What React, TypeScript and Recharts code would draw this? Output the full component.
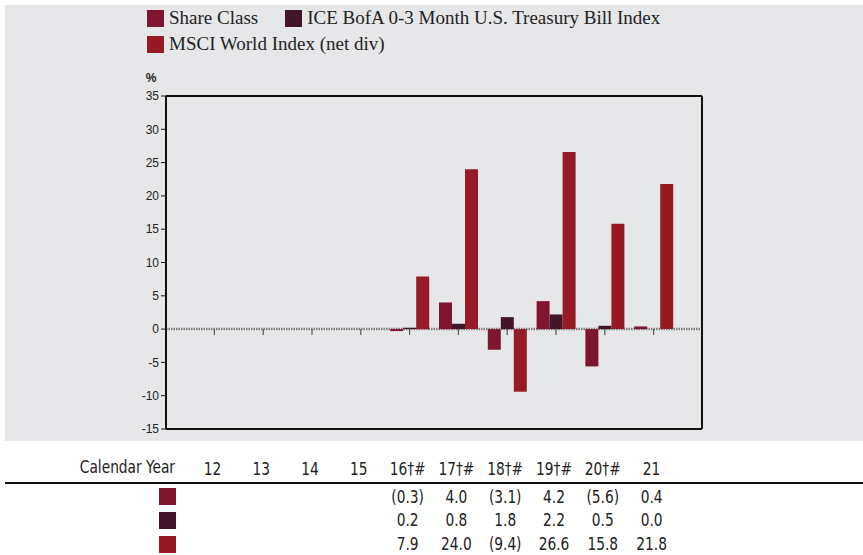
import React from 'react';
import { Bar, BarChart, CartesianGrid, ReferenceLine, XAxis, YAxis } from 'recharts';

const years = ['12', '13', '14', '15', '16', '17', '18', '19', '20', '21'];
const yearLabels = ['12', '13', '14', '15', '16†#', '17†#', '18†#', '19†#', '20†#', '21'];
const shareClass = [null, null, null, null, -0.3, 4.0, -3.1, 4.2, -5.6, 0.4];
const iceBofa = [null, null, null, null, 0.2, 0.8, 1.8, 2.2, 0.5, 0.0];
const msciWorld = [null, null, null, null, 7.9, 24.0, -9.4, 26.6, 15.8, 21.8];
const yTicks = [-15, -10, -5, 0, 5, 10, 15, 20, 25, 30, 35];

const seriesNames = ['Share Class', 'ICE BofA 0-3 Month U.S. Treasury Bill Index', 'MSCI World Index (net div)'];
const colors = ['#801530', '#43152a', '#961b25'];

const data = years.map((year, i) => ({
  year,
  shareClass: shareClass[i],
  iceBofa: iceBofa[i],
  msciWorld: msciWorld[i],
}));

const narrow = "'DejaVu Sans Condensed', 'Liberation Sans', sans-serif";
const serif = "'Liberation Serif', 'DejaVu Serif', serif";

const fmt = (v: number) => (v < 0 ? `(${Math.abs(v).toFixed(1)})` : v.toFixed(1));

const TableTick = (props: any) => {
  const { x, y, payload } = props;
  const i = years.indexOf(payload.value);
  const rowsOf = [shareClass, iceBofa, msciWorld];
  return (
    <g transform={`translate(${x - 2},${y}) scale(0.85,1)`} fontFamily={narrow} fontSize={18}>
      <text x={0} y={38} textAnchor="middle" fill="#222">{yearLabels[i]}</text>
      {rowsOf.map((arr, r) =>
        arr[i] == null ? null : (
          <text key={r} x={0} y={66 + r * 23.5} textAnchor="middle" fill="#222">
            {fmt(arr[i] as number)}
          </text>
        )
      )}
    </g>
  );
};

const App = () => {
  return (
    <div style={{ position: 'absolute', left: 0, top: 0, width: 863, height: 555, background: '#fff' }}>
      <div style={{ position: 'absolute', left: 5, top: 5, width: 858, height: 436, background: '#e6e7e9' }} />
      <div style={{ position: 'absolute', left: 147, top: 7, width: 560, display: 'flex', flexWrap: 'wrap', columnGap: 27, rowGap: 4 }}>
        {seriesNames.map((n, i) => (
          <div key={n} style={{ display: 'flex', alignItems: 'center', height: 22 }}>
            <span style={{ width: 17, height: 17, background: colors[i], marginRight: 5, display: 'inline-block' }} />
            <span style={{ fontFamily: serif, fontSize: 19, color: '#222' }}>{n}</span>
          </div>
        ))}
      </div>
      <div style={{ position: 'absolute', left: 0, top: 0 }}>
        <BarChart
          width={863}
          height={555}
          data={data}
          margin={{ top: 95, right: 160, bottom: 96, left: 136 }}
          barGap={0}
          barSize={13}
        >
          <CartesianGrid vertical={false} horizontalValues={[0]} stroke="#7d7d7d" strokeWidth={2.5} strokeDasharray="1.5 1" />
          <XAxis
            dataKey="year"
            interval={0}
            padding={{ left: 24, right: 24 }}
            axisLine={{ stroke: '#111', strokeWidth: 2 }}
            tickLine={false}
            tick={<TableTick />}
          />
          <XAxis xAxisId="top" dataKey="year" orientation="top" height={1} tick={false} tickLine={false}
            axisLine={{ stroke: '#111', strokeWidth: 2 }} />
          <YAxis
            width={30}
            domain={[-15, 35]}
            ticks={yTicks}
            interval={0}
            tickSize={5}
            tickLine={{ stroke: '#111' }}
            axisLine={{ stroke: '#111', strokeWidth: 2 }}
            tick={{ fontFamily: "'Liberation Sans', sans-serif", fontSize: 12, fill: '#222' }}
            label={{ value: '%', position: 'top', offset: 14, style: { fontFamily: "'Liberation Sans', sans-serif", fontSize: 12, fontWeight: 'bold', fill: '#222' } }}
          />
          <YAxis yAxisId="right" orientation="right" width={1} domain={[-15, 35]} tick={false} tickLine={false}
            axisLine={{ stroke: '#111', strokeWidth: 2 }} />
          <Bar dataKey="shareClass" name={seriesNames[0]} fill={colors[0]} isAnimationActive={false} />
          <Bar dataKey="iceBofa" name={seriesNames[1]} fill={colors[1]} isAnimationActive={false} />
          <Bar dataKey="msciWorld" name={seriesNames[2]} fill={colors[2]} isAnimationActive={false} />
          {years.map((y) => (
            <ReferenceLine key={y} segment={[{ x: y, y: 0 }, { x: y, y: -0.9 }]} stroke="#555" strokeWidth={1.2} />
          ))}
        </BarChart>
      </div>
      <div style={{ position: 'absolute', left: 0, width: 175, top: 456, textAlign: 'right', fontFamily: narrow, fontSize: 18, color: '#222' }}>
        <span style={{ display: 'inline-block', transform: 'scaleX(0.85)', transformOrigin: 'right center' }}>Calendar Year</span>
      </div>
      <div style={{ position: 'absolute', left: 5, width: 858, top: 482, height: 2, background: '#111' }} />
      {colors.map((c, r) => (
        <div key={c} style={{ position: 'absolute', left: 159, top: 488 + r * 24, width: 17, height: 17, background: c }} />
      ))}
    </div>
  );
};

export default App;
